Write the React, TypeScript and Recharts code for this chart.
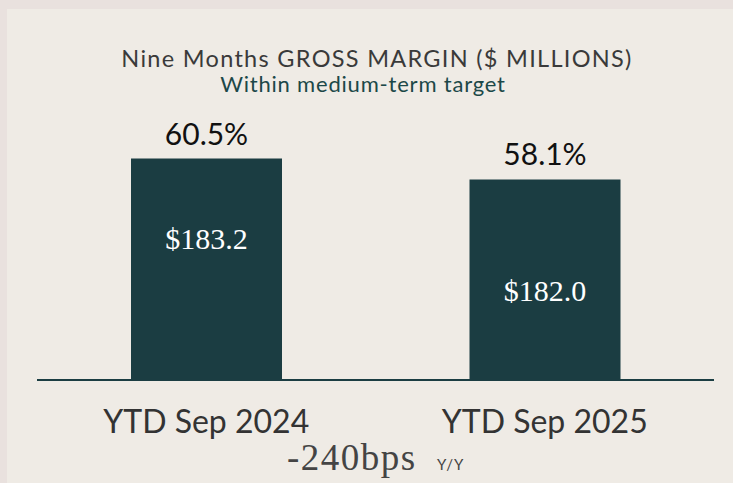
import React from 'react';
import { BarChart, Bar, XAxis, YAxis, LabelList } from 'recharts';

const periods = ['YTD Sep 2024', 'YTD Sep 2025'];
const grossMargin = [183.2, 182.0];
const marginPct = [60.5, 58.1];

const TITLE = 'Nine Months GROSS MARGIN ($ MILLIONS)';
const SUBTITLE = 'Within medium-term target';
const CHANGE = '-240bps';
const CHANGE_UNIT = 'Y/Y';

// where the dollar label sits inside each bar (fraction of bar height from top)
const insideLabelFrac = [0.36, 0.555];

const BAR = '#1b3d42';
const SANS = 'Lato, "Noto Sans", sans-serif';
const SERIF = '"Liberation Serif", "DejaVu Serif", serif';

const data = periods.map((p, i) => ({
  period: p,
  value: grossMargin[i],
  pct: marginPct[i],
}));

const PeriodTick = (props: any) => {
  const { x, y, payload } = props;
  return (
    <text x={x} y={y + 45} textAnchor="middle" fontFamily={SANS} fontSize={32} fill="#333333">
      {payload.value}
    </text>
  );
};

const DollarLabel = (props: any) => {
  const { x, y, width, height, value, index } = props;
  return (
    <text
      x={x + width / 2}
      y={y + height * insideLabelFrac[index]}
      textAnchor="middle"
      dominantBaseline="central"
      fontFamily={SERIF}
      fontSize={30}
      fill="#ffffff"
    >
      ${value.toFixed(1)}
    </text>
  );
};

const App = () => {
  return (
    <div style={{ position: 'fixed', left: 0, top: 0, width: 733, height: 483, background: '#e9e1de', overflow: 'hidden' }}>
      <div style={{ position: 'absolute', left: 7, top: 9, width: 726, height: 474, background: '#efebe5' }} />
      <div style={{ position: 'absolute', left: 0, top: 0 }}>
        <BarChart width={733} height={483} data={data} margin={{ top: 40, right: 19, bottom: 0, left: 37 }}>
          <XAxis
            dataKey="period"
            height={103}
            axisLine={{ stroke: BAR, strokeWidth: 2 }}
            tickLine={false}
            tick={<PeriodTick />}
            interval={0}
          />
          <YAxis hide domain={[170.5, 190]} />
          <Bar dataKey="value" fill={BAR} barSize={151} isAnimationActive={false}>
            <LabelList
              dataKey="pct"
              position="top"
              offset={14}
              formatter={(v: any) => `${v}%`}
              style={{ fontFamily: SANS, fontSize: 30, fill: '#111111' }}
            />
            <LabelList dataKey="value" content={<DollarLabel />} />
          </Bar>
        </BarChart>
      </div>
      <svg width={733} height={483} style={{ position: 'absolute', left: 0, top: 0, pointerEvents: 'none' }}>
        <text x={377} y={67} textAnchor="middle" fontFamily={SANS} fontSize={23.5} letterSpacing={1.3} fill="#3a3a3a">
          {TITLE}
        </text>
        <text x={363} y={92} textAnchor="middle" fontFamily={SANS} fontSize={22} letterSpacing={0.8} fill="#1c4848">
          {SUBTITLE}
        </text>
        <text x={287} y={470} fontFamily={SERIF} fontSize={37} letterSpacing={1.5} fill="#444444">
          {CHANGE}
        </text>
        <text x={437} y={470} fontFamily={SANS} fontSize={15} letterSpacing={1} fill="#444444">
          {CHANGE_UNIT}
        </text>
      </svg>
    </div>
  );
};

export default App;
